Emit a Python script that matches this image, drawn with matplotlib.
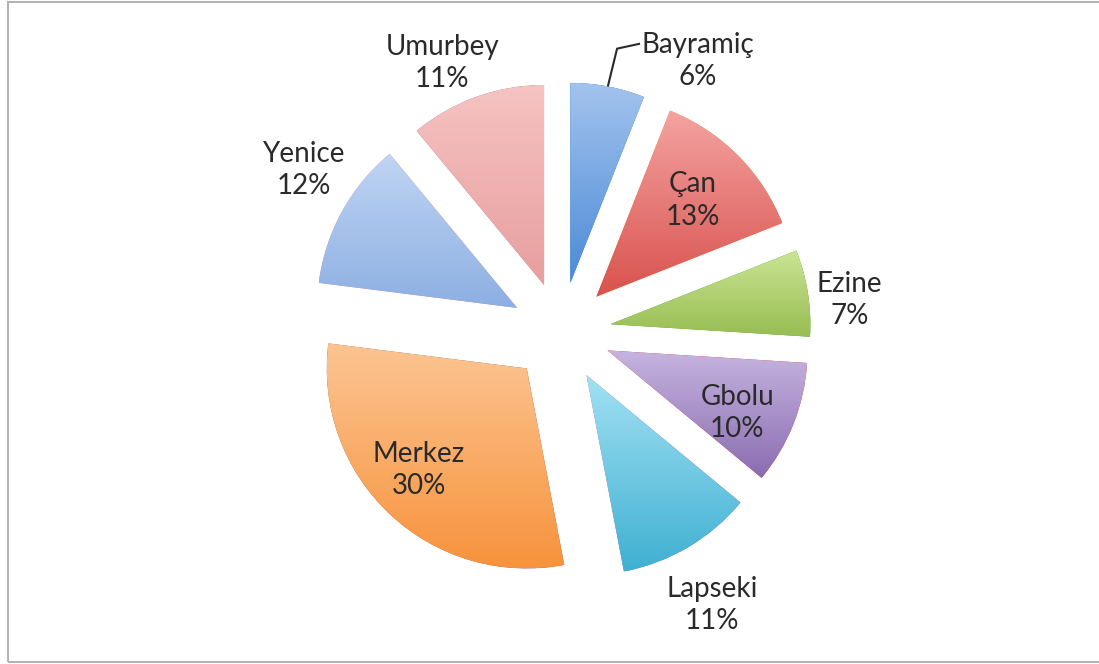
import numpy as np
import matplotlib.pyplot as plt
from matplotlib.colors import LinearSegmentedColormap
from matplotlib.patches import Rectangle

districts = ["Bayramiç", "Çan", "Ezine", "Gbolu", "Lapseki", "Merkez", "Yenice", "Umurbey"]
shares = [6, 13, 7, 10, 11, 30, 12, 11]

# gradient fill of each slice, top colour -> bottom colour
top_colors = ["#a3c3ef", "#f4a3a1", "#cbe494", "#c6b4e0", "#a3e1f3", "#fcc593", "#c0d5f3", "#f6c3c2"]
bottom_colors = ["#4b8ad6", "#d8524e", "#98bd52", "#8a6cb0", "#3fb0d2", "#f7933c", "#8cafe2", "#e79e9e"]

# label placement: distance from pie centre (in radii) and angle nudge (deg)
label_dist = [1.52, 0.93, 1.45, 0.97, 1.56, 0.99, 1.52, 1.47]
label_nudge = [16, 0, 2.7, 3, 1.6, 2.6, 3.4, -4]

explode = 0.25
W, H = 1099, 664
cx, cy, R = 561, 332, 200  # pie centre and radius in pixels

fig = plt.figure(figsize=(W / 100, H / 100), dpi=100)
ax = fig.add_axes([0, 0, 1, 1])

wedges, _ = ax.pie(shares, explode=[explode] * len(shares), startangle=90,
                   counterclock=False, radius=1, center=(0, 0),
                   wedgeprops=dict(linewidth=0))

for w, c0, c1 in zip(wedges, top_colors, bottom_colors):
    bb = w.get_path().get_extents()
    cmap = LinearSegmentedColormap.from_list("g", [c0, c1])
    grad = np.linspace(0, 1, 256).reshape(-1, 1)
    im = ax.imshow(grad, extent=(bb.x0, bb.x1, bb.y0, bb.y1), origin="upper",
                   cmap=cmap, aspect="auto", zorder=2)
    im.set_clip_path(w)

# labels
total = sum(shares)
start = 0.0
for i, (name, s) in enumerate(zip(districts, shares)):
    mid = start + s / total * 360 / 2
    start += s / total * 360
    ang = np.deg2rad(mid + label_nudge[i])
    lx, ly = label_dist[i] * np.sin(ang), label_dist[i] * np.cos(ang)
    ax.text(lx, ly, f"{name}\n{s}%", ha="center", va="center", fontsize=20,
            family=["Lato", "DejaVu Sans"], color="#2a2a2a", linespacing=1.3, zorder=5)
    if i == 0:
        # leader line from label to slice edge
        m = np.deg2rad(mid)
        ex = explode * np.sin(m) + np.sin(m)
        ey = explode * np.cos(m) + np.cos(m)
        ax.plot([lx - 0.29, lx - 0.405, ex], [ly + 0.085, ly + 0.06, ey],
                color="#2a2a2a", lw=1.5, zorder=4, solid_capstyle="butt")

ax.set_xlim(-cx / R, (W - cx) / R)
ax.set_ylim(-cy / R, (H - cy) / R)
ax.axis("off")

fig.add_artist(Rectangle((8 / W, 2 / H), 1.2, 660 / H, transform=fig.transFigure,
                         fill=False, edgecolor="#b4b4b4", lw=1.5))

fig.savefig("out.png", dpi=100)
